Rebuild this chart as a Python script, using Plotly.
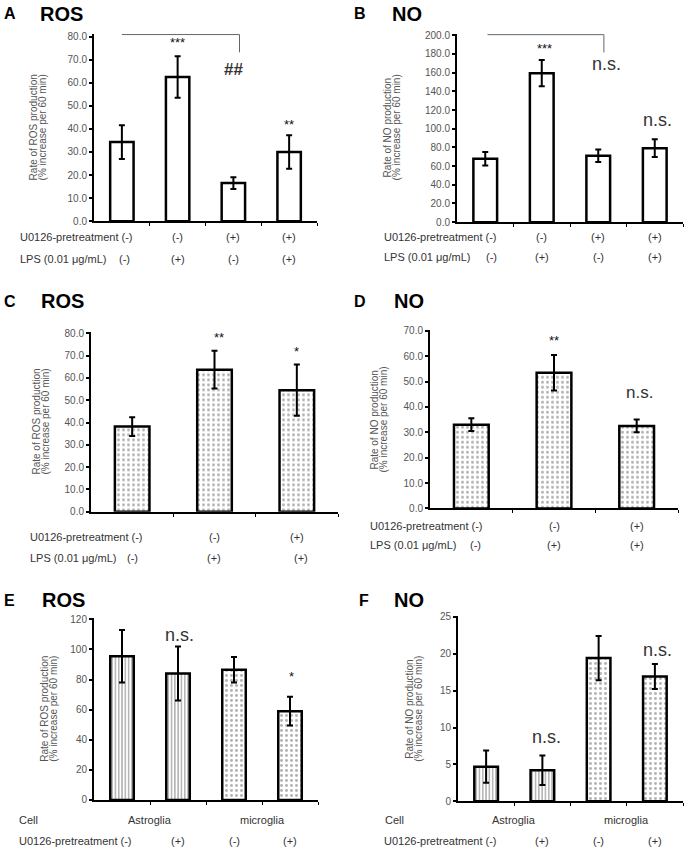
import plotly.graph_objects as go

W, H = 685, 855
FONT = "Liberation Sans, Arial, sans-serif"

# ---- data ----
ros_a = [34.3, 62.5, 16.5, 30.0]
ros_a_err = [7.3, 9.0, 2.5, 7.3]
no_b = [67.9, 159.5, 71.1, 79.2]
no_b_err = [7.3, 14.0, 6.7, 9.5]
ros_c = [38.2, 63.7, 54.5]
ros_c_err = [4.2, 8.5, 11.5]
no_d = [33.0, 53.5, 32.5]
no_d_err = [2.5, 7.0, 2.5]
ros_e = [95.5, 84.0, 86.5, 59.0]
ros_e_err = [17.5, 18.0, 8.5, 9.5]
no_f = [4.7, 4.2, 19.4, 16.9]
no_f_err = [2.2, 2.0, 3.0, 1.7]

u0126_4 = ["(-)", "(-)", "(+)", "(+)"]
lps_4 = ["(-)", "(+)", "(-)", "(+)"]
u0126_3 = ["(-)", "(-)", "(+)"]
lps_3 = ["(-)", "(+)", "(+)"]
u0126_cell = ["(-)", "(+)", "(-)", "(+)"]
cells = ["Astroglia", "microglia"]

WHITE = dict(color="white", line=dict(color="black", width=2.5))
DOTS = dict(color="white", line=dict(color="black", width=2.5),
            pattern=dict(shape=".", size=5, solidity=0.28, fgcolor="#666", bgcolor="white"))
LINES = dict(color="white", line=dict(color="black", width=2.5),
             pattern=dict(shape="|", size=3.3, solidity=0.35, fgcolor="#333", bgcolor="white"))

fig = go.Figure()
ann = []
shapes = []


def P(x, y):
    return x / W, 1 - y / H


def panel(i, vals, errs, markers, xpx, ypx, yrange, dtick, fmt):
    xa = "x" if i == 1 else "x%d" % i
    ya = "y" if i == 1 else "y%d" % i
    n = len(vals)
    for k in range(n):
        fig.add_trace(go.Bar(
            x=[k], y=[vals[k]], width=0.42, marker=markers[k],
            error_y=dict(type="data", array=[errs[k]], color="black", thickness=2, width=3),
            xaxis=xa, yaxis=ya, showlegend=False, hoverinfo="y"))
    key = "" if i == 1 else str(i)
    fig.layout["xaxis" + key] = dict(
        domain=[xpx[0] / W, xpx[1] / W], anchor=ya, range=[-0.5, n - 0.5],
        showline=True, linecolor="black", linewidth=2, showgrid=False, zeroline=False,
        tickvals=[k + 0.5 for k in range(n)], ticks="outside", ticklen=3, tickwidth=1,
        tickcolor="black", showticklabels=False)
    fig.layout["yaxis" + key] = dict(
        domain=[1 - ypx[1] / H, 1 - ypx[0] / H], anchor=xa, range=yrange,
        showline=True, linecolor="black", linewidth=2, showgrid=False, zeroline=False,
        dtick=dtick, tick0=0, tickformat=fmt, ticks="outside", ticklen=3, tickwidth=1.5,
        tickcolor="black", tickfont=dict(family=FONT, size=10, color="#555"))
    return xa, ya


def text(x, y, s, size=11, color="#333", anchor="left", bold=False):
    px, py = P(x, y)
    if bold:
        s = "<b>%s</b>" % s
    ann.append(dict(x=px, y=py, xref="paper", yref="paper", text=s, showarrow=False,
                    xanchor=anchor, yanchor="middle",
                    font=dict(family=FONT, size=size, color=color)))


def mark(xa, ya, x, y, s, size=13, color="#111"):
    ann.append(dict(x=x, y=y, xref=xa, yref=ya, text=s, showarrow=False,
                    xanchor="center", yanchor="middle",
                    font=dict(family=FONT, size=size, color=color)))


def ytitle(x, ycen, what):
    text(x, ycen, "Rate of %s production" % what, size=10, color="#555", anchor="center")
    ann[-1]["textangle"] = -90
    text(x + 9, ycen, "(% increase per 60 min)", size=10, color="#555", anchor="center")
    ann[-1]["textangle"] = -90


def bracket(xa, ya, x0, x1, ytop, ybot):
    shapes.append(dict(type="path", xref=xa, yref=ya,
                       path="M %s,%s L %s,%s L %s,%s" % (x0, ytop, x1, ytop, x1, ybot),
                       line=dict(color="#666", width=1)))


# ---- A ----
xa, ya = panel(1, ros_a, ros_a_err, [WHITE] * 4, (94, 317), (29, 219), [0, 81.3], 10, ".1f")
text(2, 9, "A", 16, "black", bold=True)
text(38, 9, "ROS", 20, "black", bold=True)
ytitle(33, 124, "ROS")
bracket(xa, ya, 0, 2.11, 80.9, 73.2)
mark(xa, ya, 1, 77.5, "***", 13)
mark(xa, ya, 2.0, 65.9, "<b>##</b>", 17, "#333")
mark(xa, ya, 3, 42, "**", 13)
text(18, 235, "U0126-pretreatment (-)")
text(18, 257, "LPS (0.01 μg/mL)")
for k in range(1, 4):
    text(94 + 55.75 * (k + 0.5), 235, u0126_4[k], anchor="center")
for k in range(4):
    text(94 + 55.75 * (k + 0.5) + (3 if k == 0 else 0), 257, lps_4[k], anchor="center")

# ---- B ----
xa, ya = panel(2, no_b, no_b_err, [WHITE] * 4, (457, 683), (29, 220), [0, 201.8], 20, ".1f")
text(352, 9, "B", 16, "black", bold=True)
text(390, 9, "NO", 20, "black", bold=True)
ytitle(387, 124, "NO")
bracket(xa, ya, 0.04, 2.1, 200.7, 181.7)
mark(xa, ya, 1.05, 186, "***", 13)
mark(xa, ya, 2.15, 169, "n.s.", 18, "#333")
mark(xa, ya, 3.05, 109, "n.s.", 18, "#333")
text(382, 235, "U0126-pretreatment (-)")
text(382, 255, "LPS (0.01 μg/mL)")
for k in range(1, 4):
    text(457 + 56.5 * (k + 0.5), 235, u0126_4[k], anchor="center")
for k in range(4):
    text(457 + 56.5 * (k + 0.5) + (6 if k == 0 else 0), 255, lps_4[k], anchor="center")

# ---- C ----
xa, ya = panel(3, ros_c, ros_c_err, [DOTS] * 3, (91, 338), (331.7, 513.3), [0, 80.4], 10, ".1f")
text(2, 300, "C", 16, "black", bold=True)
text(39, 300, "ROS", 20, "black", bold=True)
ytitle(37, 422, "ROS")
mark(xa, ya, 1.05, 78, "**", 13)
mark(xa, ya, 2.0, 72, "*", 13)
text(28, 539, "U0126-pretreatment (-)")
text(28, 560, "LPS (0.01 μg/mL)")
for k in range(1, 3):
    text(91 + 82.3 * (k + 0.5), 539, u0126_3[k], anchor="center")
for k in range(3):
    text(91 + 82.3 * (k + 0.5) + (4 if k == 2 else 0), 560, lps_3[k], anchor="center")

# ---- D ----
xa, ya = panel(4, no_d, no_d_err, [DOTS] * 3, (430, 678), (329, 510), [0, 70.4], 10, ".1f")
text(352, 300, "D", 16, "black", bold=True)
text(392, 300, "NO", 20, "black", bold=True)
ytitle(375, 420, "NO")
mark(xa, ya, 1.0, 66, "**", 13)
mark(xa, ya, 2.04, 45.5, "n.s.", 17, "#333")
text(368, 528, "U0126-pretreatment (-)")
text(368, 547, "LPS (0.01 μg/mL)")
for k in range(1, 3):
    text(430 + 82.7 * (k + 0.5), 528, u0126_3[k], anchor="center")
for k in range(3):
    text(430 + 82.7 * (k + 0.5) + (4 if k == 0 else 0), 547, lps_3[k], anchor="center")

# ---- E ----
xa, ya = panel(5, ros_e, ros_e_err, [LINES, LINES, DOTS, DOTS], (94, 318), (621, 805.3), [0, 120.9], 20, "d")
text(2, 603, "E", 16, "black", bold=True)
text(40, 603, "ROS", 20, "black", bold=True)
ytitle(45, 713, "ROS")
mark(xa, ya, 1.03, 109.5, "n.s.", 18, "#333")
mark(xa, ya, 3.03, 82, "*", 13)
text(17, 826, "Cell")
text(17, 847, "U0126-pretreatment (-)")
for j in range(2):
    text(94 + 56 * (2 * j + 1), 826, cells[j], anchor="center")
for k in range(1, 4):
    text(94 + 56 * (k + 0.5), 847, u0126_cell[k], anchor="center")

# ---- F ----
xa, ya = panel(6, no_f, no_f_err, [LINES, LINES, DOTS, DOTS], (458, 683), (619, 806.7), [0, 25.1], 5, "d")
text(357, 603, "F", 16, "black", bold=True)
text(392, 603, "NO", 20, "black", bold=True)
ytitle(410, 713, "NO")
mark(xa, ya, 1.08, 8.7, "n.s.", 18, "#333")
mark(xa, ya, 3.04, 20.5, "n.s.", 18, "#333")
text(383, 826, "Cell")
text(382, 847, "U0126-pretreatment (-)")
for j in range(2):
    text(458 + 56.25 * (2 * j + 1), 826, cells[j], anchor="center")
for k in range(1, 4):
    text(458 + 56.25 * (k + 0.5), 847, u0126_cell[k], anchor="center")

fig.update_layout(
    width=W, height=H, margin=dict(l=0, r=0, t=0, b=0),
    paper_bgcolor="white", plot_bgcolor="white", showlegend=False,
    barmode="overlay", annotations=ann, shapes=shapes,
    font=dict(family=FONT))

# pin the graph div to the page corner so the window shows it 1:1
pin = ("document.documentElement.style.margin='0';document.body.style.margin='0';"
       "document.body.style.overflow='hidden';document.body.style.height='855px';"
       "var g=document.querySelector('.plotly-graph-div');"
       "g.style.position='absolute';g.style.left='0px';g.style.top='0px';")
fig.write_html("out.html", config={"displayModeBar": False}, post_script=pin)
